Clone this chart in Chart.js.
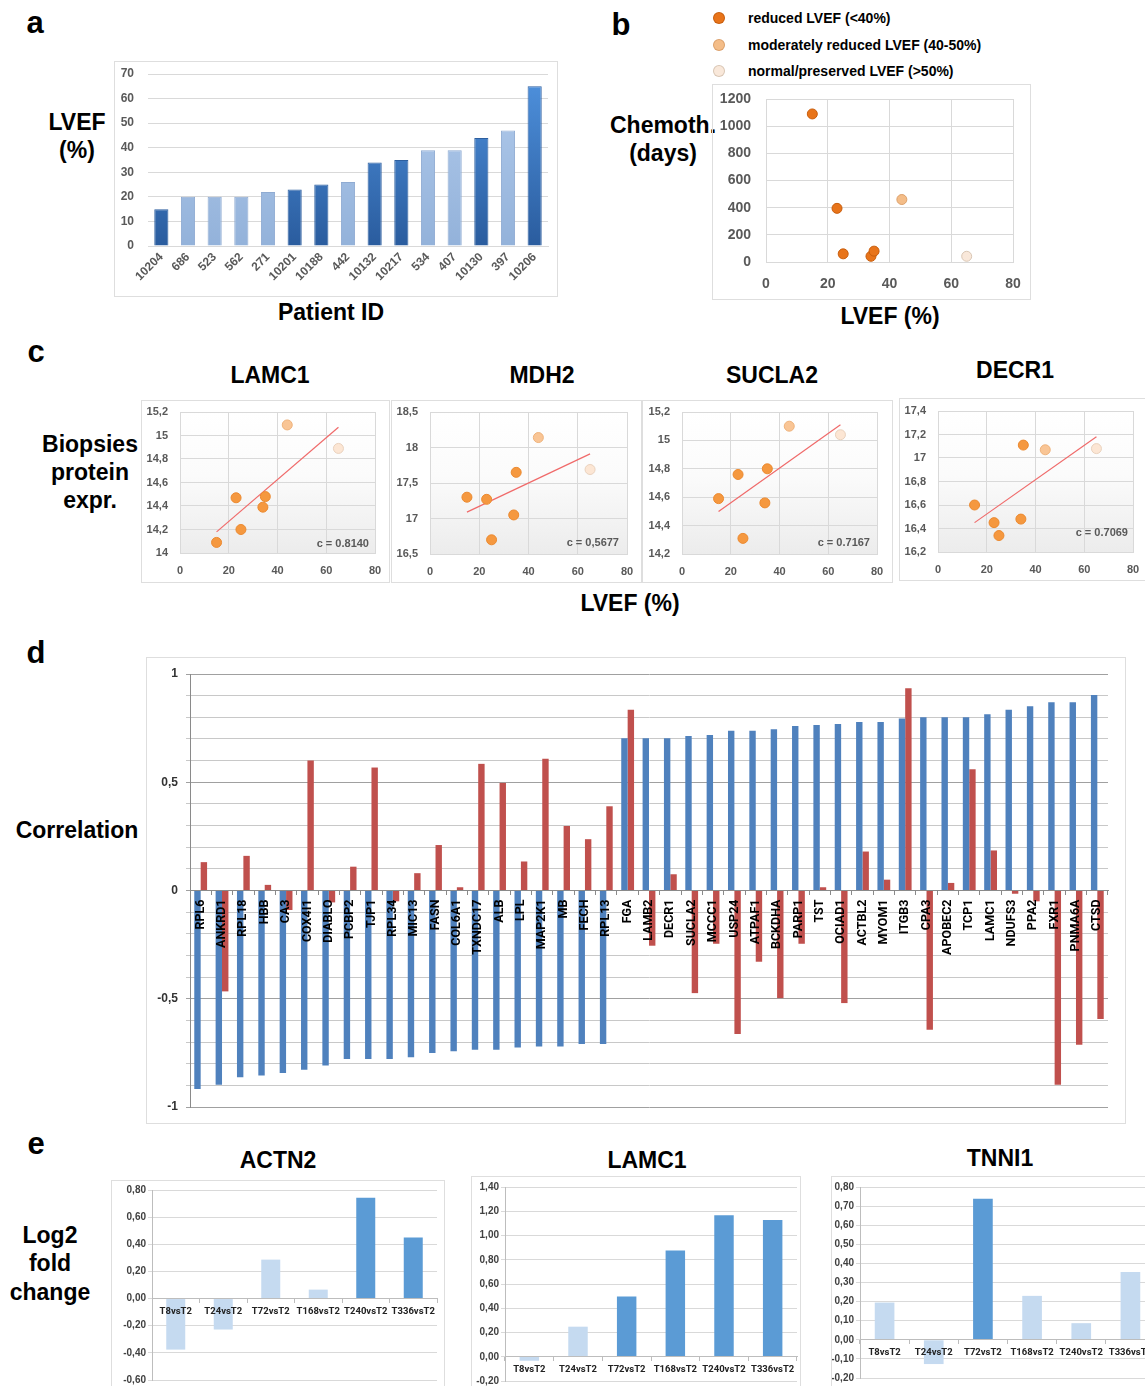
<!DOCTYPE html>
<html>
<head>
<meta charset="utf-8">
<script src="https://cdn.jsdelivr.net/npm/chart.js@4.4.1/dist/chart.umd.min.js"></script>
<style>
  body { margin: 0; width: 1145px; height: 1386px; overflow: hidden; background: #fff; position: relative;
         font-family: 'Liberation Sans', Arial, sans-serif; }
  .t { position: absolute; font-weight: bold; color: #000; white-space: nowrap; line-height: 1; transform: translate(-50%, -50%); }
  .l { transform: translate(0, -50%); }
  .r { transform: translate(-100%, -50%); }
  .frame { position: absolute; box-shadow: 0 0 0 1px #dedede; }
  .dot { position: absolute; width: 10px; height: 10px; border-radius: 50%; transform: translate(-50%, -50%); }
</style>
</head>
<body>
<script>
// ---- panel a: LVEF per patient
const patientIds = ['10204', '686', '523', '562', '271', '10201', '10188', '442', '10132', '10217', '534', '407', '10130', '397', '10206'];
const patientLvef = [15, 20, 20, 20, 22, 23, 25, 26, 34, 35, 39, 39, 44, 47, 65];
const inCohort = [1, 0, 0, 0, 0, 1, 1, 0, 1, 1, 0, 0, 1, 0, 1];

// ---- panel b: chemotherapy duration vs LVEF (cohort of 7)
const cohortLvef = [15, 23, 25, 34, 35, 44, 65];
const chemoDays = [1090, 395, 60, 42, 80, 460, 42];
const lvefClass = ['reduced', 'reduced', 'reduced', 'reduced', 'reduced', 'moderate', 'normal'];

// ---- panel c: biopsy protein expression vs LVEF
const lamc1Expr = [14.09, 14.47, 14.20, 14.39, 14.48, 15.09, 14.89];
const mdh2Expr = [17.30, 17.27, 16.70, 17.05, 17.65, 18.14, 17.69];
const sucla2Expr = [14.59, 14.76, 14.31, 14.56, 14.80, 15.10, 15.04];
const decr1Expr = [16.60, 16.45, 16.34, 16.48, 17.11, 17.07, 17.08];
const trendLvef = [15, 65];
const lamc1Trend = [14.18, 15.07];
const mdh2Trend = [17.09, 17.91];
const sucla2Trend = [14.50, 15.11];
const decr1Trend = [16.45, 17.18];

// ---- panel d: correlations
const genes = ['RPL6', 'ANKRD1', 'RPL18', 'HBB', 'CA3', 'COX4I1', 'DIABLO', 'PCBP2', 'TJP1', 'RPL34', 'MIC13', 'FASN',
  'COL6A1', 'TXNDC17', 'ALB', 'LPL', 'MAP2K1', 'MB', 'FECH', 'RPL13', 'FGA', 'LAMB2', 'DECR1', 'SUCLA2', 'MCCC1',
  'USP24', 'ATPAF1', 'BCKDHA', 'PARP1', 'TST', 'OCIAD1', 'ACTBL2', 'MYOM1', 'ITGB3', 'CPA3', 'APOBEC2', 'TCP1',
  'LAMC1', 'NDUFS3', 'PPA2', 'FXR1', 'PNMA6A', 'CTSD'];
const corrBlue = [-0.917, -0.897, -0.863, -0.854, -0.843, -0.828, -0.808, -0.778, -0.778, -0.778, -0.770, -0.750,
  -0.743, -0.735, -0.735, -0.725, -0.720, -0.720, -0.709, -0.709, 0.703, 0.703, 0.703, 0.714, 0.718,
  0.738, 0.738, 0.745, 0.760, 0.765, 0.769, 0.778, 0.778, 0.795, 0.800, 0.800, 0.800,
  0.814, 0.835, 0.851, 0.869, 0.869, 0.903];
const corrRed = [0.131, -0.466, 0.160, 0.026, -0.090, 0.600, -0.055, 0.110, 0.568, -0.050, 0.080, 0.210,
  0.015, 0.585, 0.497, 0.134, 0.609, 0.298, 0.237, 0.389, 0.835, -0.255, 0.075, -0.474, -0.246,
  -0.663, -0.329, -0.497, -0.246, 0.015, -0.520, 0.180, 0.050, 0.934, -0.643, 0.035, 0.560,
  0.185, -0.015, -0.050, -0.897, -0.712, -0.594];

// ---- panel e: log2 fold change over time
const timepoints = ['T8vsT2', 'T24vsT2', 'T72vsT2', 'T168vsT2', 'T240vsT2', 'T336vsT2'];
const actn2Fold = [-0.376, -0.228, 0.287, 0.066, 0.742, 0.450];
const actn2Sig = [0, 0, 0, 0, 1, 1];
const lamc1Fold = [-0.033, 0.248, 0.497, 0.877, 1.167, 1.128];
const lamc1Sig = [0, 0, 1, 1, 1, 1];
const tnni1Fold = [0.195, -0.127, 0.739, 0.230, 0.087, 0.355];
const tnni1Sig = [0, 0, 1, 0, 0, 0];

const SANS = "'Liberation Sans', Arial, sans-serif";
const NARROW = "Roboto, 'Liberation Sans', sans-serif";
const GRID = '#d9d9d9';
const TICK = '#595959';
const NONE = 'rgba(0,0,0,0)';

Chart.defaults.font.family = SANS;
Chart.defaults.animation = false;
Chart.defaults.responsive = false;
Chart.defaults.plugins.legend.display = false;
Chart.defaults.plugins.tooltip.enabled = false;

function text(str, cx, cy, size, cls, color) {
  const d = document.createElement('div');
  d.className = 't' + (cls ? ' ' + cls : '');
  d.textContent = str;
  d.style.left = cx + 'px';
  d.style.top = cy + 'px';
  d.style.fontSize = size + 'px';
  if (color) d.style.color = color;
  document.body.appendChild(d);
}

// box = [x, y, w, h] of the canvas, plot = [left, top, right, bottom] of the chart area (page px)
function placeChart(box, plot, config) {
  const [bx, by, bw, bh] = box;
  const [pl, pt, pr, pb] = plot;
  const canvas = document.createElement('canvas');
  canvas.width = bw;
  canvas.height = bh;
  canvas.className = 'frame';
  canvas.style.left = bx + 'px';
  canvas.style.top = by + 'px';
  document.body.appendChild(canvas);
  const o = config.options;
  const floatingX = typeof o.scales.x.position === 'object';
  o.layout = { padding: { left: 0, top: pt - by, right: bx + bw - pr, bottom: floatingX ? by + bh - pb : 0 } };
  o.scales.y.afterFit = s => { s.width = pl - bx; };
  if (!floatingX) o.scales.x.afterFit = s => { s.height = by + bh - pb; };
  return new Chart(canvas, config);
}

const plotFill = {
  id: 'plotFill',
  beforeDraw(chart) {
    const { ctx, chartArea: a } = chart;
    const g = ctx.createLinearGradient(0, a.top, 0, a.bottom);
    g.addColorStop(0, '#ffffff');
    g.addColorStop(0.45, '#fbfbfb');
    g.addColorStop(1, '#ececec');
    ctx.save();
    ctx.fillStyle = g;
    ctx.fillRect(a.left, a.top, a.width, a.height);
    ctx.restore();
  }
};

const comma = v => String(+v.toFixed(2)).replace('.', ',');
const comma2 = v => (Math.abs(v) < 1e-9 ? 0 : v).toFixed(2).replace('.', ',');

// ================= panel a
text('a', 35, 22, 31);
text('LVEF', 77, 122, 23);
text('(%)', 77, 150, 23);
text('Patient ID', 331, 312, 23);

function barShade(ctx) {
  const dark = inCohort[ctx.dataIndex];
  const area = ctx.chart.chartArea;
  if (!area) return dark ? '#3a74c0' : '#a4c0e4';
  const g = ctx.chart.ctx.createLinearGradient(0, area.bottom, 0, area.top);
  if (dark) { g.addColorStop(0, '#2a5c9e'); g.addColorStop(1, '#4f92de'); }
  else { g.addColorStop(0, '#93b2da'); g.addColorStop(1, '#b2cbec'); }
  return g;
}

placeChart([115, 62, 442, 234], [148, 74, 548, 246], {
  type: 'bar',
  data: {
    labels: patientIds,
    datasets: [{ data: patientLvef, backgroundColor: barShade, borderColor: ctx => inCohort[ctx.dataIndex] ? '#2d5f9f' : '#8fabd2',
      borderWidth: 1, barPercentage: 0.53, categoryPercentage: 1 }]
  },
  options: {
    scales: {
      x: { grid: { display: false, drawTicks: false }, border: { color: GRID },
        ticks: { minRotation: 45, maxRotation: 45, autoSkip: false, padding: 4, color: TICK, font: { size: 12, weight: 'bold' } } },
      y: { min: 0, max: 70, grid: { color: GRID, tickLength: 14, tickColor: NONE }, border: { display: false },
        ticks: { stepSize: 10, padding: 0, color: TICK, font: { size: 12, weight: 'bold' } } }
    }
  }
});

// ================= panel b
text('b', 621, 24, 31);
const classColor = { reduced: '#e8741a', moderate: '#f4bd88', normal: '#f9e8da' };
const classEdge = { reduced: '#c85d0c', moderate: '#dca06a', normal: '#d9c6b4' };
const legendRows = [['reduced', 'reduced LVEF (<40%)', 18], ['moderate', 'moderately reduced LVEF (40-50%)', 45], ['normal', 'normal/preserved LVEF (>50%)', 71]];
legendRows.forEach(([k, label, y]) => {
  const d = document.createElement('div');
  d.className = 'dot';
  d.style.left = '719px';
  d.style.top = y + 'px';
  d.style.background = classColor[k];
  d.style.boxShadow = '0 0 0 1px ' + classEdge[k];
  document.body.appendChild(d);
  text(label, 748, y, 14, 'l');
});
text('Chemoth.', 663, 125, 23);
text('(days)', 663, 153, 23);
text('LVEF (%)', 890, 316, 23);

placeChart([713, 85, 317, 214], [766, 99, 1013, 262], {
  type: 'scatter',
  data: {
    datasets: [{
      data: cohortLvef.map((x, i) => ({ x, y: chemoDays[i] })),
      pointRadius: 5,
      pointBackgroundColor: lvefClass.map(k => classColor[k]),
      pointBorderColor: lvefClass.map(k => classEdge[k]),
      pointBorderWidth: 1
    }]
  },
  options: {
    scales: {
      x: { min: 0, max: 80, grid: { color: GRID, tickLength: 14, tickColor: NONE }, border: { color: GRID },
        ticks: { stepSize: 20, padding: 0, color: TICK, font: { size: 14, weight: 'bold' } } },
      y: { min: 0, max: 1200, grid: { color: GRID, tickLength: 15, tickColor: NONE }, border: { color: GRID },
        ticks: { stepSize: 200, padding: 0, color: TICK, callback: v => String(v), font: { size: 14, weight: 'bold' } } }
    }
  }
});

// ================= panel c
text('c', 36, 351, 31);
text('Biopsies', 90, 444, 23);
text('protein', 90, 472, 23);
text('expr.', 90, 500, 23);
text('LVEF (%)', 630, 603, 23);

const exprColor = { reduced: '#f5983f', moderate: '#f9c595', normal: '#fce6d4' };
const exprEdge = { reduced: '#ec8a30', moderate: '#efb37c', normal: '#ead2be' };

function exprChart(box, plot, title, titlePos, values, trend, yMin, yMax, yStep, coef, coefPos) {
  text(title, titlePos[0], titlePos[1], 23);
  placeChart(box, plot, {
    type: 'scatter',
    data: {
      datasets: [
        { data: cohortLvef.map((x, i) => ({ x, y: values[i] })), pointRadius: 5, order: 0,
          pointBackgroundColor: lvefClass.map(k => exprColor[k]), pointBorderColor: lvefClass.map(k => exprEdge[k]), pointBorderWidth: 1 },
        { type: 'line', data: trendLvef.map((x, i) => ({ x, y: trend[i] })), order: 1,
          borderColor: '#f06a6a', borderWidth: 1.2, pointRadius: 0, showLine: true }
      ]
    },
    options: {
      scales: {
        x: { type: 'linear', min: 0, max: 80, grid: { color: GRID, tickLength: 11, tickColor: NONE }, border: { color: GRID },
          ticks: { stepSize: 20, padding: 0, color: TICK, font: { size: 11, weight: 'bold' } } },
        y: { min: yMin, max: yMax, grid: { color: GRID, tickLength: 12, tickColor: NONE }, border: { color: GRID },
          ticks: { stepSize: yStep, padding: 0, color: TICK, callback: comma, font: { size: 11, weight: 'bold' } } }
      }
    },
    plugins: [plotFill]
  });
  text(coef, coefPos[0], coefPos[1], 11, 'r', TICK);
}

exprChart([142, 401, 247, 181], [180, 412, 375, 553], 'LAMC1', [270, 375], lamc1Expr, lamc1Trend, 14, 15.2, 0.2, 'c = 0.8140', [369, 543]);
exprChart([392, 401, 249, 181], [430, 412, 627, 554], 'MDH2', [542, 375], mdh2Expr, mdh2Trend, 16.5, 18.5, 0.5, 'c = 0,5677', [619, 542]);
exprChart([643, 401, 249, 181], [682, 412, 877, 554], 'SUCLA2', [772, 375], sucla2Expr, sucla2Trend, 14.2, 15.2, 0.2, 'c = 0.7167', [870, 542]);
exprChart([900, 399, 250, 181], [938, 411, 1133, 552], 'DECR1', [1015, 370], decr1Expr, decr1Trend, 16.2, 17.4, 0.2, 'c = 0.7069', [1128, 532]);

// ================= panel d
text('d', 36, 652, 31);
text('Correlation', 77, 830, 23);

placeChart([147, 658, 978, 465], [190, 674, 1108, 1107], {
  type: 'bar',
  data: {
    labels: genes,
    datasets: [
      { data: corrBlue, backgroundColor: '#4f81bd', barPercentage: 1, categoryPercentage: 0.6 },
      { data: corrRed, backgroundColor: '#c0504d', barPercentage: 1, categoryPercentage: 0.6 }
    ]
  },
  options: {
    scales: {
      x: { position: { y: 0 }, grid: { drawOnChartArea: false, tickLength: 4, color: '#8a8a8a' }, border: { color: '#8a8a8a', z: 1 },
        ticks: { z: 1, minRotation: 90, maxRotation: 90, autoSkip: false, padding: 5, color: '#000', font: { family: NARROW, size: 12.5, weight: 'bold' } } },
      y: { min: -1, max: 1,
        grid: { tickLength: 4, color: ctx => Math.round(ctx.tick.value * 10) % 5 === 0 ? '#a0a0a0' : '#c8c8c8' },
        border: { color: '#8a8a8a' },
        ticks: { stepSize: 0.1, autoSkip: false, padding: 8, color: '#333',
          callback: v => Math.round(v * 10) % 5 === 0 ? comma(v) : '', font: { size: 12, weight: 'bold' } } }
    }
  }
});

// ================= panel e
text('e', 36, 1143, 31);
text('Log2', 50, 1235, 23);
text('fold', 50, 1263, 23);
text('change', 50, 1292, 23);

function foldChart(box, plot, title, titlePos, values, sig, yMin, yMax, yStep) {
  text(title, titlePos[0], titlePos[1], 23);
  placeChart(box, plot, {
    type: 'bar',
    data: {
      labels: timepoints,
      datasets: [{ data: values, backgroundColor: sig.map(s => s ? '#5b9bd5' : '#c5daf0'), barPercentage: 0.4, categoryPercentage: 1 }]
    },
    options: {
      scales: {
        x: { position: { y: 0 }, grid: { drawOnChartArea: false, tickLength: 4, color: '#bdbdbd' }, border: { color: '#bdbdbd', z: 1 },
          ticks: { z: 1, minRotation: 0, maxRotation: 0, autoSkip: false, padding: 3, color: '#222', font: { family: NARROW, size: 9.5, weight: 'bold' } } },
        y: { min: yMin, max: yMax, grid: { color: GRID, tickLength: 4 }, border: { color: '#bdbdbd' },
          ticks: { stepSize: yStep, autoSkip: false, padding: 2, color: '#404040', callback: comma2, font: { size: 10, weight: 'bold' } } }
      }
    }
  });
}

foldChart([112, 1181, 332, 220], [152, 1190, 437, 1380], 'ACTN2', [278, 1160], actn2Fold, actn2Sig, -0.6, 0.8, 0.2);
foldChart([472, 1177, 328, 220], [505, 1187, 797, 1381], 'LAMC1', [647, 1160], lamc1Fold, lamc1Sig, -0.2, 1.4, 0.2);
foldChart([832, 1177, 340, 220], [860, 1187, 1155, 1378], 'TNNI1', [1000, 1158], tnni1Fold, tnni1Sig, -0.2, 0.8, 0.1);
</script>
</body>
</html>
